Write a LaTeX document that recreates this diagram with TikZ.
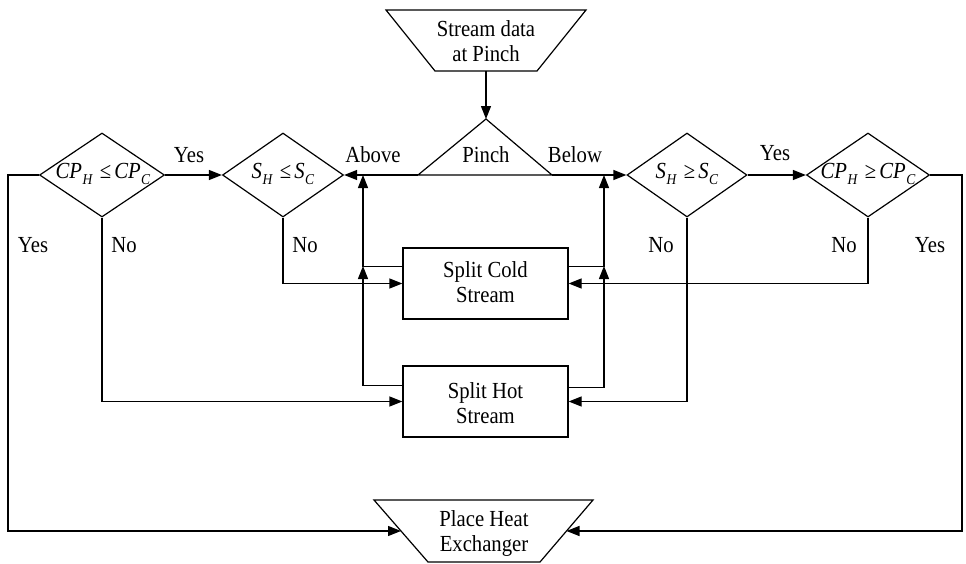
\documentclass[tikz,border=0pt]{standalone}
\usepackage{fontspec}
\setmainfont[FakeStretch=0.9]{Liberation Serif}
\usetikzlibrary{arrows.meta,shapes.geometric,calc}
\newcommand{\subv}[1]{\raisebox{-0.25em}{\fontsize{15}{15}\selectfont\textit{#1}}}
\newcommand{\cpvar}[1]{\textit{CP}\kern0.5pt\subv{#1}}
\newcommand{\svar}[1]{\textit{S}\kern0.5pt\subv{#1}}
\newcommand{\rel}[1]{\hspace{7pt}#1\hspace{3pt}}
\begin{document}
\begin{tikzpicture}[x=1pt,y=-1pt, line width=1.2pt, line join=miter,
  arr/.style={-{Triangle[length=13pt,width=10pt]}},
  lbl/.style={font=\fontsize{23}{25}\selectfont, inner sep=0pt},
  txt/.style={font=\fontsize{23}{25}\selectfont, align=center, inner sep=0pt},
  dia/.style={diamond, draw, inner sep=0pt, minimum height=84pt},
  stepbox/.style={rectangle, draw, minimum width=165pt, minimum height=71pt, inner sep=0pt},
]
\useasboundingbox (0,0) rectangle (966,563);

% top terminal
\draw (386,10) -- (586,10) -- (537,71) -- (435,71) -- cycle;
\node[txt] (sd) at (486,41) {Stream data\\at Pinch};
\coordinate (sdB) at (486,71);

% pinch triangle
\coordinate (pA) at (486,119);
\coordinate (pL) at (418,175);
\coordinate (pR) at (552,175);
\draw (pL) -- (pA) -- (pR) -- cycle;
\node[lbl] (pinch) at (486,155) {Pinch};

% diamonds
\node[dia, minimum width=125pt] (d1) at (102,175) {};
\node[txt] (t1) at (103,174) {\cpvar{H}\rel{≤}\cpvar{C}};
\node[dia, minimum width=121pt] (d2) at (283,175) {};
\node[txt] (t2) at (283,174) {\svar{H}\rel{≤}\svar{C}};
\node[dia, minimum width=120pt] (d3) at (687,175) {};
\node[txt] (t3) at (687,174) {\svar{H}\rel{≥}\svar{C}};
\node[dia, minimum width=123pt] (d4) at (868,175) {};
\node[txt] (t4) at (868,174) {\cpvar{H}\rel{≥}\cpvar{C}};

% split boxes
\node[stepbox] (cold) at (485.5,283.5) {};
\node[txt] (tc) at (485.5,282) {Split Cold\\Stream};
\node[stepbox] (hot) at (485.5,401.5) {};
\node[txt] (th) at (485.5,403) {Split Hot\\Stream};

% bottom terminal
\coordinate (b1) at (374,500);
\coordinate (b2) at (593,500);
\coordinate (b3) at (540,562);
\coordinate (b4) at (428,562);
\draw (b1) -- (b2) -- (b3) -- (b4) -- cycle;
\node[txt] (ph) at (484,533) {Place Heat\\Exchanger};
\coordinate (phL) at ($(b1)!0.5!(b4)$);
\coordinate (phR) at ($(b2)!0.5!(b3)$);

% junction coordinates
\coordinate (aboveJ) at (363,175);
\coordinate (belowJ) at (604,175);
\coordinate (jL) at (363,266);
\coordinate (jR) at (604,266);
\coordinate (lfar) at (8,175);
\coordinate (rfar) at (962,175);

% connectors
\draw[arr] (sdB) -- (pA);
\draw[arr] (pL) -- (d2.east);
\draw[arr] (pR) -- (d3.west);
\draw[arr] (d1.east) -- (d2.west);
\draw[arr] (d3.east) -- (d4.west);
\draw[arr] (d1.west) -- (lfar) |- (phL);
\draw[arr] (d4.east) -- (rfar) |- (phR);
\draw[arr] (d1.south) |- (hot.west);
\draw[arr] (d2.south) |- (cold.west);
\draw[arr] (d3.south) |- (hot.east);
\draw[arr] (d4.south) |- (cold.east);
\draw[arr] ($(cold.west)+(0,-17)$) -| (aboveJ);
\draw[arr] ($(hot.west)+(0,-16)$) -| (jL);
\draw[arr] ($(cold.east)+(0,-17)$) -| (belowJ);
\draw[arr] ($(hot.east)+(0,-14)$) -| (jR);

% labels
\node[lbl] (yes1) at (189,155) {Yes};
\node[lbl] (above) at (373,155) {Above};
\node[lbl] (below) at (575,155) {Below};
\node[lbl] (yes2) at (775,153) {Yes};
\node[lbl] (yes3) at (33,245) {Yes};
\node[lbl] (no1) at (124,245) {No};
\node[lbl] (no2) at (305,245) {No};
\node[lbl] (no3) at (661,245) {No};
\node[lbl] (no4) at (844,245) {No};
\node[lbl] (yes4) at (930,245) {Yes};
\end{tikzpicture}
\end{document}
